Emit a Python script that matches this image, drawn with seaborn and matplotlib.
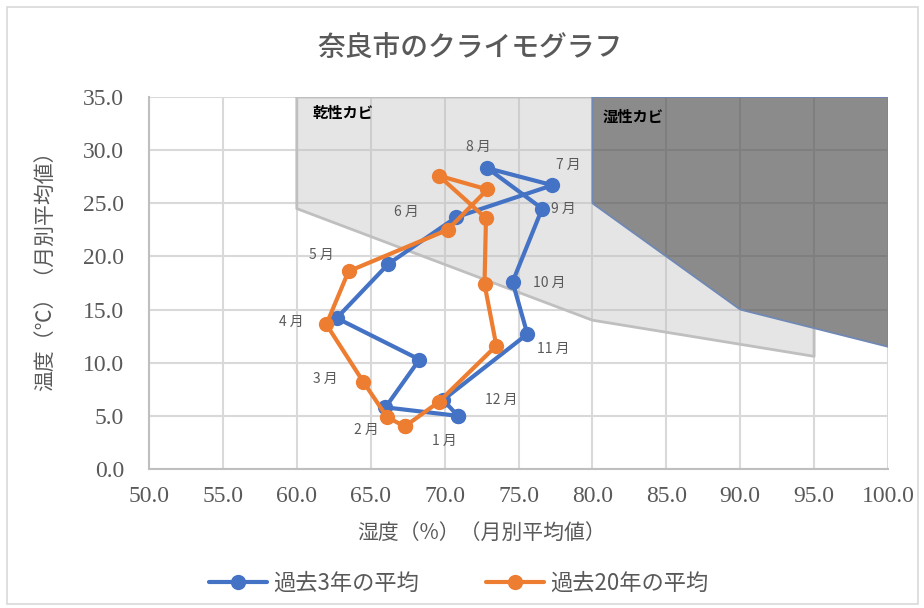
import matplotlib
matplotlib.use("Agg")
import matplotlib.pyplot as plt
from matplotlib.lines import Line2D
from matplotlib.patches import Rectangle, PathPatch
from matplotlib.path import Path
import seaborn as sns
import pandas as pd

# ---- data ----
months = ["1 月", "2 月", "3 月", "4 月", "5 月", "6 月", "7 月", "8 月", "9 月", "10 月", "11 月", "12 月"]
hum_3y = [70.9, 66.0, 68.3, 62.7, 66.2, 70.8, 77.3, 72.9, 76.6, 74.6, 75.6, 69.9]
temp_3y = [5.0, 5.8, 10.3, 14.2, 19.3, 23.7, 26.7, 28.3, 24.5, 17.6, 12.7, 6.5]
hum_20y = [67.3, 66.1, 64.5, 62.0, 63.5, 70.2, 72.9, 69.6, 72.8, 72.7, 73.5, 69.6]
temp_20y = [4.0, 4.9, 8.2, 13.6, 18.6, 22.5, 26.3, 27.6, 23.6, 17.4, 11.6, 6.3]
series_names = ["過去3年の平均", "過去20年の平均"]
dry_x = [60, 60, 80, 95, 95]
dry_y = [35, 24.5, 14, 10.6, 35]
wet_x = [80, 80, 90, 100, 100]
wet_y = [35, 25, 15, 11.5, 35]
x_ticks = [50, 55, 60, 65, 70, 75, 80, 85, 90, 95, 100]
y_ticks = [0, 5, 10, 15, 20, 25, 30, 35]

# label offsets (pixels) relative to the 3-year points
label_dx = [-14, -19, -94, -45, -67, -50, 16, -9, 21, 37, 26, 58]
label_dy = [-25, -23, -19, -4, 9, 5, 20, 21, 0, -1, -15, 0]

sns.set_theme(style="white")
cjk = ["Noto Sans CJK JP", "DejaVu Sans"]
plt.rcParams["font.family"] = cjk

blue = "#4472C4"
orange = "#ED7D31"
textc = "#595959"

fig = plt.figure(figsize=(9.24, 6.08), dpi=100)
ax = fig.add_axes([149 / 924, 1 - 469 / 608, (888 - 149) / 924, (469 - 97) / 608])
ax.set_xlim(50, 100)
ax.set_ylim(0, 35)

# clip region: everything except the wet polygon
box = [(40, -10), (110, -10), (110, 45), (40, 45), (40, -10)]
wet_pts = list(zip(wet_x, wet_y))[::-1]
verts = box + wet_pts + [wet_pts[0]]
codes = ([Path.MOVETO] + [Path.LINETO] * 3 + [Path.CLOSEPOLY]
         + [Path.MOVETO] + [Path.LINETO] * (len(wet_pts) - 1) + [Path.CLOSEPOLY])
clip_patch = PathPatch(Path(verts, codes), transform=ax.transData, visible=False)
ax.add_patch(clip_patch)

# regions
dry_fill = ax.fill(dry_x, dry_y, facecolor="#bfbfbf", alpha=0.4, edgecolor="none", zorder=1)
dry_line = ax.plot(dry_x + [dry_x[0]], dry_y + [dry_y[0]], color="#bfbfbf", lw=2, zorder=1.1)
for a in dry_fill + dry_line:
    a.set_clip_path(clip_patch)
ax.fill(wet_x, wet_y, facecolor="#555555", alpha=0.68, edgecolor="none", zorder=1.2)
ax.plot(wet_x + [wet_x[0]], wet_y + [wet_y[0]], color="#7088b5", lw=1.3, zorder=1.3)

# data frame (closed loops)
rows = []
for name, hx, ty in [(series_names[0], hum_3y, temp_3y), (series_names[1], hum_20y, temp_20y)]:
    for i in list(range(12)) + [0]:
        rows.append({"series": name, "hum": hx[i], "temp": ty[i]})
df = pd.DataFrame(rows)

sns.lineplot(data=df, x="hum", y="temp", hue="series", palette=[blue, orange],
             sort=False, estimator=None, units="series", marker="o", markersize=11,
             markeredgewidth=0, linewidth=3, ax=ax, legend=False, zorder=3)

for i, m in enumerate(months):
    ax.annotate(m, (hum_3y[i], temp_3y[i]), xytext=(label_dx[i], label_dy[i]),
                textcoords="offset pixels", ha="center", va="center",
                fontsize=10, color=textc, zorder=5)

ax.text(0.2206, 0.957, "乾性カビ", transform=ax.transAxes, fontsize=11,
        fontweight="bold", color="black", va="center", ha="left", zorder=5)
ax.text(0.614, 0.946, "湿性カビ", transform=ax.transAxes, fontsize=11,
        fontweight="bold", color="black", va="center", ha="left", zorder=5)

ax.set_xlim(50, 100)
ax.set_ylim(0, 35)
ax.set_xticks(x_ticks)
ax.set_yticks(y_ticks)
ax.set_xticklabels([f"{v:.1f}" for v in x_ticks], family="Liberation Serif", fontsize=17, color=textc)
ax.set_yticklabels([f"{v:.1f}" for v in y_ticks], family="Liberation Serif", fontsize=17, color=textc)
ax.tick_params(axis="both", length=0)
ax.tick_params(axis="y", pad=18)
ax.tick_params(axis="x", pad=12)
ax.grid(True, color="#d9d9d9", lw=1.5, zorder=0)
ax.set_axisbelow(True)
for s in ["top", "right"]:
    ax.spines[s].set_visible(False)
for s in ["left", "bottom"]:
    ax.spines[s].set_color("#bfbfbf")
    ax.spines[s].set_linewidth(1.5)
ax.set_xlabel("")
ax.set_ylabel("")

fig.text(470 / 924, 1 - 48 / 608, "奈良市のクライモグラフ", ha="center", va="center",
         fontsize=20, color=textc, fontweight="medium")
fig.text(482 / 924, 1 - 533 / 608, "湿度（%）（月別平均値）", ha="center", va="center",
         fontsize=15, color=textc)
fig.text(45 / 924, 1 - 266 / 608, "温度（℃）（月別平均値）", ha="center", va="center",
         fontsize=15, color=textc, rotation=90)

handles = [Line2D([], [], color=blue, lw=3, marker="o", markersize=11, markeredgewidth=0),
           Line2D([], [], color=orange, lw=3, marker="o", markersize=11, markeredgewidth=0)]
fig.legend(handles, series_names, loc="center", bbox_to_anchor=(459 / 924, 1 - 583 / 608),
           ncol=2, frameon=False, fontsize=16, handlelength=2.6, columnspacing=3.0,
           handletextpad=0.3, labelcolor=textc)

fig.patches.append(Rectangle((0.008, 0.006), 0.985, 0.982, transform=fig.transFigure,
                             fill=False, edgecolor="#d9d9d9", lw=1.2))

fig.savefig("out.png", dpi=100)
